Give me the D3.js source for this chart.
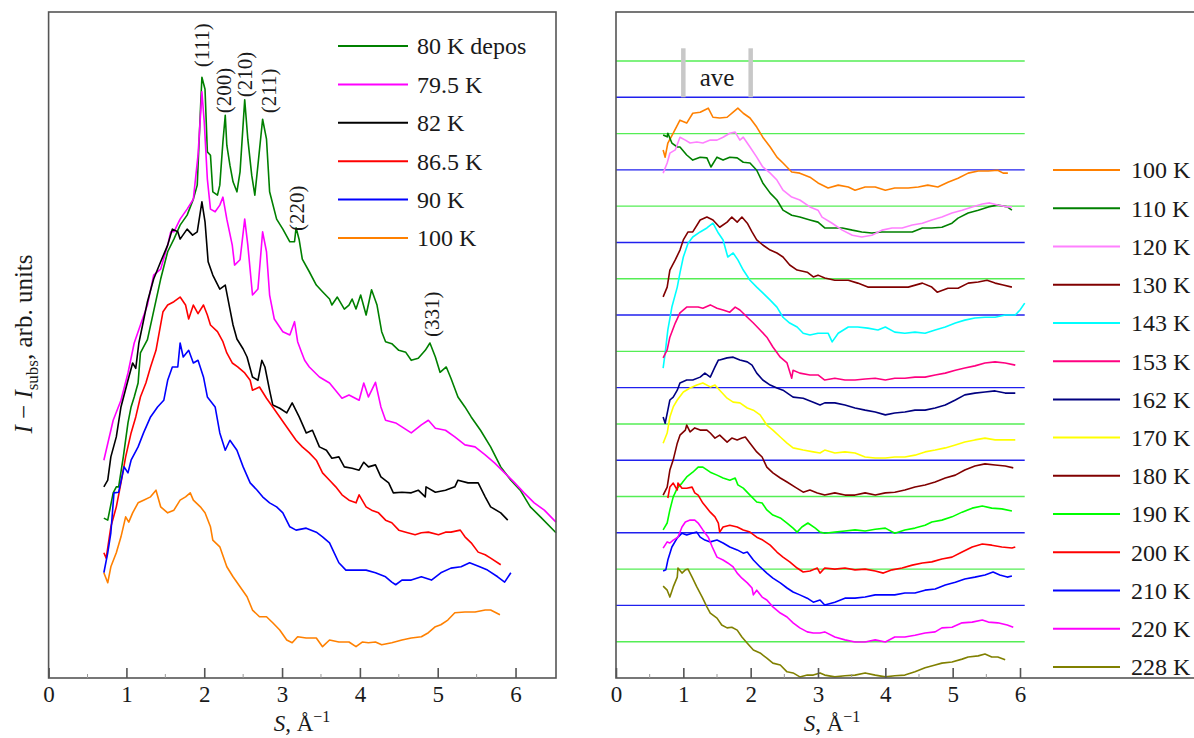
<!DOCTYPE html>
<html>
<head>
<meta charset="utf-8">
<script src="https://cdn.jsdelivr.net/npm/d3@7"></script>
<style>
body { margin: 0; background: #fff; }
svg text { font-family: 'Liberation Serif', 'Times New Roman', Tinos, 'DejaVu Serif', serif !important; fill: #1a1a1a; }
</style>
</head>
<body>
<svg class="canvas"></svg>
<script>
// ---- left panel: S (1/A) vs intensity (arb. units) ----
var dep80 = [[0.71,2.40],[0.76,2.37],[0.83,2.78],[0.87,2.87],[0.90,2.87],[0.96,3.32],[1.02,3.83],[1.06,4.07],[1.10,4.22],[1.15,4.43],[1.18,4.88],[1.27,5.08],[1.44,5.99],[1.53,6.40],[1.61,6.59],[1.69,6.80],[1.78,6.95],[1.86,7.19],[1.91,7.40],[1.95,8.50],[1.97,9.02],[2.01,8.84],[2.04,7.90],[2.08,7.85],[2.11,7.30],[2.17,7.25],[2.20,7.40],[2.24,8.05],[2.27,8.45],[2.29,8.00],[2.33,7.70],[2.37,7.45],[2.42,7.30],[2.46,7.60],[2.52,8.68],[2.56,8.09],[2.61,7.55],[2.65,7.25],[2.69,7.70],[2.75,8.39],[2.80,8.09],[2.84,7.30],[2.93,6.89],[3.01,6.74],[3.10,6.55],[3.16,6.55],[3.18,6.76],[3.22,6.58],[3.26,6.29],[3.35,6.10],[3.44,5.90],[3.52,5.80],[3.61,5.69],[3.64,5.60],[3.71,5.72],[3.80,5.54],[3.86,5.60],[3.90,5.69],[3.95,5.54],[4.01,5.75],[4.08,5.45],[4.15,5.83],[4.22,5.60],[4.28,5.20],[4.33,5.05],[4.41,5.02],[4.50,4.92],[4.59,4.89],[4.66,4.77],[4.75,4.80],[4.84,4.92],[4.90,5.03],[4.97,4.82],[5.03,4.59],[5.11,4.67],[5.17,4.50],[5.26,4.22],[5.35,4.07],[5.43,3.92],[5.55,3.72],[5.68,3.47],[5.81,3.17],[5.94,2.97],[6.06,2.82],[6.19,2.57],[6.32,2.42],[6.52,2.18]];
var k795 = [[0.71,3.27],[0.83,3.87],[0.93,4.17],[1.02,4.58],[1.10,5.03],[1.18,5.30],[1.27,5.60],[1.35,6.05],[1.44,6.14],[1.53,6.50],[1.57,6.70],[1.61,6.70],[1.69,6.89],[1.78,7.04],[1.86,7.19],[1.92,7.85],[1.97,8.80],[2.00,8.35],[2.04,7.49],[2.08,7.04],[2.14,7.00],[2.20,7.10],[2.24,7.22],[2.29,6.89],[2.36,6.50],[2.39,6.20],[2.46,6.28],[2.52,6.89],[2.56,6.50],[2.62,5.75],[2.69,5.84],[2.75,6.70],[2.80,6.40],[2.84,5.75],[2.90,5.39],[3.01,5.20],[3.10,5.15],[3.16,5.35],[3.20,5.05],[3.25,4.89],[3.29,4.77],[3.35,4.67],[3.48,4.52],[3.61,4.43],[3.77,4.20],[3.86,4.25],[3.99,4.17],[4.05,4.43],[4.11,4.22],[4.20,4.44],[4.27,4.07],[4.33,3.87],[4.46,3.83],[4.54,3.77],[4.66,3.68],[4.79,3.80],[4.88,3.87],[4.97,3.75],[5.10,3.72],[5.22,3.62],[5.35,3.50],[5.48,3.47],[5.61,3.35],[5.73,3.23],[5.86,3.08],[5.99,2.93],[6.11,2.78],[6.24,2.63],[6.37,2.52],[6.52,2.34]];
var k82 = [[0.71,2.87],[0.76,2.97],[0.80,3.32],[0.87,3.62],[0.93,4.07],[1.02,4.47],[1.08,4.73],[1.12,4.65],[1.16,5.03],[1.27,5.65],[1.35,5.99],[1.44,6.25],[1.53,6.50],[1.59,6.74],[1.66,6.70],[1.69,6.59],[1.78,6.74],[1.85,6.65],[1.91,6.70],[1.97,7.15],[2.01,6.85],[2.05,6.25],[2.11,6.05],[2.20,5.84],[2.27,5.90],[2.33,5.54],[2.37,5.30],[2.42,5.09],[2.50,4.94],[2.55,4.82],[2.62,4.52],[2.69,4.47],[2.74,4.77],[2.78,4.67],[2.84,4.32],[2.88,4.10],[2.97,4.05],[3.06,3.98],[3.13,4.13],[3.22,3.92],[3.31,3.68],[3.39,3.72],[3.48,3.47],[3.57,3.42],[3.64,3.30],[3.73,3.32],[3.80,3.17],[3.90,3.15],[3.99,3.12],[4.05,3.24],[4.11,3.17],[4.20,3.20],[4.27,3.02],[4.37,2.93],[4.43,2.78],[4.54,2.79],[4.66,2.78],[4.75,2.82],[4.84,2.72],[4.85,2.87],[4.97,2.79],[5.10,2.82],[5.22,2.87],[5.26,2.97],[5.39,2.93],[5.52,2.93],[5.61,2.72],[5.68,2.57],[5.81,2.48],[5.90,2.37]];
var k865 = [[0.71,1.88],[0.74,1.80],[0.80,2.27],[0.87,2.57],[0.93,2.93],[0.99,3.32],[1.06,3.68],[1.12,3.92],[1.18,4.22],[1.25,4.43],[1.31,4.67],[1.38,4.92],[1.47,5.50],[1.53,5.60],[1.61,5.65],[1.69,5.72],[1.76,5.60],[1.80,5.39],[1.86,5.60],[1.92,5.47],[1.99,5.60],[2.04,5.45],[2.08,5.30],[2.17,5.20],[2.24,5.05],[2.29,4.88],[2.36,4.73],[2.43,4.67],[2.52,4.58],[2.59,4.47],[2.62,4.32],[2.71,4.37],[2.80,4.20],[2.88,4.07],[2.97,3.92],[3.06,3.77],[3.18,3.57],[3.26,3.47],[3.35,3.38],[3.44,3.27],[3.52,3.08],[3.61,2.97],[3.69,2.87],[3.77,2.75],[3.86,2.67],[3.95,2.63],[3.99,2.75],[4.08,2.57],[4.15,2.52],[4.24,2.48],[4.33,2.37],[4.41,2.33],[4.50,2.22],[4.59,2.19],[4.71,2.15],[4.79,2.18],[4.88,2.19],[5.01,2.15],[5.10,2.19],[5.17,2.19],[5.29,2.22],[5.35,2.12],[5.43,2.03],[5.52,1.89],[5.61,1.85],[5.68,1.80],[5.81,1.70]];
var k90 = [[0.71,1.58],[0.76,1.88],[0.80,2.18],[0.84,2.78],[0.90,2.79],[0.97,3.17],[1.02,3.08],[1.06,3.27],[1.15,3.47],[1.22,3.68],[1.31,3.92],[1.40,4.07],[1.48,4.17],[1.53,4.47],[1.59,4.67],[1.66,4.67],[1.69,5.03],[1.73,4.82],[1.80,4.92],[1.86,4.73],[1.92,4.77],[1.99,4.52],[2.04,4.22],[2.10,4.13],[2.14,4.07],[2.20,3.68],[2.27,3.42],[2.33,3.57],[2.42,3.42],[2.50,3.17],[2.59,2.93],[2.68,2.82],[2.75,2.72],[2.84,2.63],[2.93,2.57],[3.01,2.48],[3.10,2.27],[3.18,2.22],[3.31,2.25],[3.44,2.19],[3.52,2.12],[3.61,2.03],[3.67,1.88],[3.73,1.73],[3.82,1.62],[3.95,1.62],[4.08,1.62],[4.20,1.58],[4.33,1.52],[4.41,1.44],[4.46,1.40],[4.54,1.47],[4.66,1.47],[4.79,1.52],[4.92,1.47],[5.04,1.58],[5.17,1.65],[5.30,1.67],[5.41,1.73],[5.54,1.67],[5.64,1.62],[5.77,1.52],[5.86,1.44],[5.94,1.58]];
var k100 = [[0.71,1.58],[0.76,1.43],[0.80,1.67],[0.87,1.88],[0.93,2.12],[0.99,2.42],[1.03,2.34],[1.08,2.48],[1.15,2.63],[1.22,2.67],[1.31,2.72],[1.38,2.82],[1.44,2.57],[1.53,2.48],[1.61,2.52],[1.69,2.67],[1.76,2.72],[1.82,2.78],[1.86,2.67],[1.95,2.57],[2.01,2.48],[2.08,2.27],[2.11,2.07],[2.20,1.97],[2.29,1.67],[2.37,1.52],[2.46,1.37],[2.55,1.22],[2.62,1.02],[2.71,0.92],[2.80,0.92],[2.88,0.83],[2.97,0.72],[3.06,0.57],[3.13,0.53],[3.20,0.62],[3.31,0.60],[3.44,0.60],[3.52,0.47],[3.61,0.57],[3.73,0.54],[3.86,0.54],[3.95,0.47],[4.03,0.54],[4.11,0.53],[4.20,0.54],[4.28,0.50],[4.41,0.53],[4.54,0.57],[4.66,0.60],[4.79,0.62],[4.88,0.68],[4.97,0.77],[5.04,0.80],[5.13,0.87],[5.22,0.98],[5.35,0.99],[5.48,0.99],[5.61,1.02],[5.68,1.02],[5.80,0.95]];

var leftSeries = [dep80, k795, k82, k865, k90, k100];
var leftLabels = ["80 K depos", "79.5 K", "82 K", "86.5 K", "90 K", "100 K"];
var leftColors = ["#008000", "#ff00ff", "#000000", "#ff0000", "#0000ff", "#ff8000"];

var peakNames = ["(111)", "(200)", "(210)", "(211)", "(220)", "(331)"];
var peakS = [1.97, 2.25, 2.52, 2.83, 3.19, 4.92];
var peakV = [9.17, 8.48, 8.72, 8.48, 6.71, 5.12];

// ---- right panel: curves stacked on reference levels ----
var r100 = [[0.70,14.55],[0.73,14.35],[0.77,14.74],[0.85,15.01],[0.95,15.37],[1.05,15.29],[1.14,15.56],[1.25,15.59],[1.37,15.70],[1.44,15.45],[1.54,15.43],[1.65,15.45],[1.74,15.59],[1.81,15.70],[1.89,15.56],[1.99,15.43],[2.09,15.18],[2.18,14.90],[2.29,14.63],[2.39,14.35],[2.48,14.19],[2.61,13.94],[2.73,13.91],[2.88,13.80],[3.00,13.64],[3.15,13.50],[3.30,13.58],[3.45,13.53],[3.55,13.44],[3.70,13.53],[3.85,13.53],[4.00,13.44],[4.14,13.50],[4.34,13.50],[4.49,13.53],[4.63,13.58],[4.78,13.53],[4.93,13.66],[5.08,13.77],[5.23,13.91],[5.38,13.97],[5.53,13.97],[5.67,13.99],[5.75,13.91],[5.82,13.91]];
var r110 = [[0.70,14.96],[0.76,14.91],[0.77,15.01],[0.83,14.74],[0.91,14.63],[0.95,14.63],[1.05,14.41],[1.14,14.27],[1.25,14.35],[1.35,14.33],[1.41,14.08],[1.50,14.35],[1.59,14.27],[1.69,14.35],[1.80,14.33],[1.89,14.21],[1.99,14.19],[2.09,13.99],[2.18,13.64],[2.29,13.36],[2.39,13.17],[2.48,12.89],[2.61,12.75],[2.73,12.70],[2.88,12.62],[3.00,12.56],[3.10,12.40],[3.21,12.40],[3.36,12.40],[3.51,12.34],[3.65,12.29],[3.80,12.26],[3.95,12.29],[4.10,12.29],[4.25,12.29],[4.40,12.29],[4.55,12.40],[4.69,12.40],[4.84,12.42],[4.99,12.53],[5.08,12.67],[5.23,12.81],[5.38,12.89],[5.53,12.98],[5.67,13.03],[5.81,12.98],[5.88,12.89]];
var r120 = [[0.70,13.91],[0.76,14.19],[0.80,14.46],[0.88,14.55],[0.95,14.90],[1.03,14.82],[1.10,14.74],[1.20,14.77],[1.29,14.74],[1.40,14.82],[1.50,14.82],[1.59,14.90],[1.69,15.01],[1.77,15.04],[1.84,14.82],[1.89,14.90],[1.99,14.63],[2.09,14.35],[2.18,14.08],[2.29,13.91],[2.39,13.72],[2.48,13.44],[2.61,13.25],[2.73,13.17],[2.88,12.98],[3.00,12.89],[3.06,12.70],[3.21,12.53],[3.36,12.34],[3.51,12.20],[3.65,12.15],[3.80,12.20],[3.95,12.34],[4.10,12.40],[4.25,12.40],[4.40,12.48],[4.55,12.53],[4.69,12.62],[4.84,12.70],[4.99,12.81],[5.14,12.89],[5.29,12.98],[5.44,13.06],[5.55,13.09],[5.67,13.03],[5.81,12.98],[5.88,12.98]];
var r130 = [[0.70,10.50],[0.76,10.77],[0.80,11.24],[0.88,11.52],[0.95,11.79],[1.00,12.07],[1.07,12.29],[1.14,12.29],[1.25,12.62],[1.35,12.70],[1.44,12.62],[1.54,12.42],[1.65,12.56],[1.72,12.70],[1.80,12.56],[1.87,12.70],[1.95,12.53],[2.02,12.29],[2.09,12.07],[2.18,11.93],[2.29,11.79],[2.39,11.71],[2.48,11.60],[2.58,11.38],[2.69,11.24],[2.84,11.18],[2.93,11.05],[3.00,11.10],[3.10,11.02],[3.25,10.96],[3.45,10.96],[3.59,10.88],[3.74,10.77],[3.95,10.77],[4.14,10.77],[4.34,10.77],[4.55,10.88],[4.69,10.77],[4.77,10.63],[4.93,10.74],[5.08,10.74],[5.23,10.88],[5.38,10.91],[5.51,10.96],[5.63,10.88],[5.75,10.83],[5.88,10.77]];
var r143 = [[0.70,8.54],[0.73,8.95],[0.77,9.59],[0.83,10.22],[0.91,10.77],[0.95,11.16],[1.00,11.60],[1.07,11.98],[1.14,12.15],[1.25,12.29],[1.35,12.40],[1.44,12.53],[1.52,12.26],[1.59,12.07],[1.66,11.60],[1.74,11.71],[1.81,11.52],[1.89,11.24],[1.99,10.96],[2.09,10.77],[2.18,10.61],[2.29,10.41],[2.39,10.22],[2.48,9.94],[2.58,9.78],[2.69,9.67],[2.78,9.50],[2.88,9.45],[3.00,9.50],[3.06,9.50],[3.15,9.50],[3.21,9.26],[3.30,9.50],[3.45,9.67],[3.59,9.67],[3.74,9.64],[3.89,9.59],[4.00,9.67],[4.14,9.53],[4.29,9.50],[4.44,9.53],[4.59,9.50],[4.74,9.59],[4.89,9.67],[5.04,9.78],[5.18,9.86],[5.33,9.92],[5.48,9.94],[5.63,9.94],[5.78,10.00],[5.93,10.00],[6.00,10.14],[6.07,10.33]];
var r153 = [[0.70,8.82],[0.76,9.04],[0.80,9.39],[0.88,9.78],[0.95,10.06],[1.05,10.22],[1.14,10.22],[1.22,10.22],[1.29,10.19],[1.40,10.28],[1.50,10.19],[1.59,10.14],[1.69,10.08],[1.77,10.22],[1.84,10.14],[1.95,9.94],[2.04,9.78],[2.14,9.59],[2.24,9.39],[2.33,9.12],[2.44,8.84],[2.54,8.68],[2.61,8.26],[2.63,8.48],[2.73,8.40],[2.88,8.35],[3.00,8.35],[3.10,8.21],[3.25,8.26],[3.40,8.21],[3.55,8.21],[3.70,8.24],[3.85,8.26],[4.00,8.21],[4.14,8.26],[4.29,8.26],[4.44,8.29],[4.59,8.29],[4.74,8.35],[4.89,8.40],[5.04,8.48],[5.18,8.54],[5.33,8.60],[5.48,8.68],[5.63,8.71],[5.78,8.68],[5.93,8.62]];
var r162 = [[0.70,7.19],[0.73,7.02],[0.77,7.38],[0.80,7.66],[0.85,7.74],[0.91,7.93],[0.95,8.13],[1.05,8.21],[1.14,8.21],[1.25,8.29],[1.32,8.40],[1.40,8.29],[1.47,8.57],[1.52,8.76],[1.54,8.76],[1.65,8.82],[1.74,8.84],[1.84,8.76],[1.95,8.71],[2.02,8.62],[2.09,8.40],[2.18,8.21],[2.29,8.07],[2.39,7.99],[2.48,7.93],[2.63,7.74],[2.78,7.71],[2.93,7.60],[3.03,7.52],[3.10,7.58],[3.25,7.58],[3.40,7.52],[3.55,7.44],[3.70,7.38],[3.85,7.33],[4.00,7.25],[4.14,7.30],[4.29,7.33],[4.44,7.38],[4.59,7.38],[4.74,7.44],[4.89,7.52],[5.04,7.66],[5.18,7.80],[5.33,7.85],[5.48,7.88],[5.63,7.91],[5.78,7.85],[5.93,7.85]];
var r170 = [[0.70,6.47],[0.76,6.75],[0.80,7.19],[0.85,7.47],[0.91,7.66],[1.00,7.88],[1.10,7.99],[1.20,8.07],[1.29,8.13],[1.40,8.02],[1.47,8.07],[1.54,7.93],[1.65,7.71],[1.74,7.60],[1.84,7.58],[1.95,7.44],[2.04,7.38],[2.14,7.25],[2.24,6.97],[2.33,6.83],[2.44,6.64],[2.54,6.47],[2.63,6.34],[2.78,6.28],[2.93,6.23],[3.03,6.20],[3.10,6.28],[3.25,6.20],[3.40,6.23],[3.55,6.20],[3.70,6.09],[3.85,6.06],[4.00,6.06],[4.14,6.09],[4.29,6.09],[4.44,6.14],[4.59,6.23],[4.74,6.28],[4.89,6.34],[5.04,6.42],[5.18,6.50],[5.33,6.56],[5.48,6.61],[5.63,6.56],[5.78,6.56],[5.93,6.56]];
var r180 = [[0.70,5.04],[0.76,5.26],[0.80,5.73],[0.85,6.01],[0.91,6.47],[0.95,6.69],[1.03,6.83],[1.05,6.97],[1.10,6.78],[1.17,6.89],[1.25,6.83],[1.35,6.83],[1.40,6.75],[1.47,6.61],[1.54,6.69],[1.65,6.50],[1.72,6.61],[1.80,6.56],[1.87,6.61],[1.92,6.64],[1.99,6.47],[2.09,6.23],[2.17,6.09],[2.24,5.81],[2.33,5.65],[2.44,5.51],[2.54,5.40],[2.66,5.26],[2.78,5.12],[2.88,5.18],[2.99,5.10],[3.10,5.04],[3.25,5.10],[3.40,5.04],[3.55,5.04],[3.70,5.10],[3.85,5.04],[4.00,5.10],[4.14,5.12],[4.29,5.18],[4.44,5.26],[4.59,5.32],[4.74,5.40],[4.89,5.51],[5.04,5.59],[5.18,5.73],[5.33,5.84],[5.48,5.90],[5.63,5.87],[5.78,5.84],[5.90,5.79]];
var r190 = [[0.70,4.08],[0.76,4.27],[0.80,4.63],[0.85,4.99],[0.91,5.23],[0.98,5.37],[1.05,5.54],[1.14,5.67],[1.22,5.81],[1.29,5.81],[1.40,5.67],[1.50,5.59],[1.59,5.51],[1.69,5.45],[1.77,5.51],[1.81,5.32],[1.89,5.23],[1.99,5.04],[2.09,4.85],[2.17,4.82],[2.24,4.63],[2.33,4.49],[2.44,4.41],[2.54,4.27],[2.63,4.13],[2.69,4.02],[2.76,4.16],[2.85,4.27],[2.96,4.13],[3.03,4.02],[3.10,3.99],[3.25,4.02],[3.40,4.05],[3.55,4.08],[3.70,4.05],[3.85,4.10],[4.00,4.13],[4.14,3.99],[4.29,4.08],[4.44,4.13],[4.59,4.21],[4.69,4.30],[4.84,4.35],[4.99,4.44],[5.14,4.57],[5.29,4.68],[5.44,4.74],[5.58,4.68],[5.73,4.66],[5.88,4.60]];
var r200 = [[0.77,4.96],[0.80,5.26],[0.85,5.37],[0.91,5.18],[0.92,5.37],[0.98,5.23],[1.05,5.23],[1.13,5.26],[1.17,5.10],[1.22,5.04],[1.29,4.82],[1.40,4.57],[1.47,4.44],[1.52,4.27],[1.54,4.02],[1.59,4.16],[1.69,4.21],[1.80,4.16],[1.89,4.08],[1.99,4.02],[2.09,3.88],[2.18,3.80],[2.29,3.66],[2.39,3.47],[2.48,3.33],[2.58,3.20],[2.69,3.03],[2.78,2.92],[2.88,2.95],[2.99,3.03],[3.03,2.89],[3.10,3.03],[3.25,3.00],[3.40,3.03],[3.55,2.98],[3.70,3.00],[3.85,2.95],[3.97,2.89],[4.10,2.98],[4.25,3.03],[4.40,3.11],[4.55,3.17],[4.69,3.20],[4.84,3.28],[4.99,3.33],[5.14,3.47],[5.29,3.61],[5.44,3.69],[5.58,3.66],[5.73,3.61],[5.88,3.58],[5.93,3.61]];
var r210 = [[0.70,2.95],[0.74,2.98],[0.77,3.25],[0.83,3.61],[0.91,3.86],[0.98,3.99],[1.05,3.94],[1.13,3.99],[1.20,4.02],[1.25,3.88],[1.32,3.80],[1.40,3.75],[1.50,3.80],[1.59,3.72],[1.69,3.61],[1.80,3.53],[1.89,3.44],[1.95,3.47],[2.04,3.25],[2.14,3.06],[2.24,2.89],[2.33,2.75],[2.44,2.62],[2.54,2.48],[2.63,2.37],[2.73,2.29],[2.84,2.20],[2.93,2.09],[3.03,2.15],[3.10,2.01],[3.25,2.09],[3.40,2.20],[3.55,2.20],[3.70,2.23],[3.85,2.29],[4.00,2.29],[4.14,2.29],[4.29,2.34],[4.44,2.34],[4.59,2.42],[4.74,2.45],[4.89,2.56],[5.04,2.64],[5.18,2.73],[5.33,2.78],[5.48,2.84],[5.60,2.92],[5.70,2.84],[5.81,2.78],[5.88,2.81]];
var r220 = [[0.70,3.58],[0.76,3.75],[0.80,3.72],[0.85,3.80],[0.92,3.88],[0.98,4.16],[1.03,4.30],[1.10,4.35],[1.17,4.35],[1.22,4.27],[1.29,4.08],[1.37,3.88],[1.43,3.61],[1.50,3.33],[1.59,3.25],[1.66,3.17],[1.74,3.06],[1.80,2.89],[1.87,2.75],[1.95,2.62],[2.02,2.48],[2.04,2.29],[2.09,2.42],[2.17,2.23],[2.24,2.15],[2.33,1.96],[2.44,1.79],[2.54,1.68],[2.63,1.52],[2.73,1.38],[2.84,1.27],[2.93,1.24],[3.03,1.24],[3.10,1.27],[3.25,1.13],[3.40,1.05],[3.55,0.99],[3.70,0.99],[3.85,1.05],[4.00,0.99],[4.14,1.13],[4.29,1.13],[4.44,1.18],[4.59,1.24],[4.74,1.27],[4.84,1.38],[4.99,1.40],[5.14,1.52],[5.29,1.54],[5.44,1.60],[5.53,1.54],[5.67,1.52],[5.81,1.46],[5.90,1.40]];
var r228 = [[0.70,2.53],[0.76,2.42],[0.80,2.23],[0.85,2.51],[0.91,2.78],[0.92,3.03],[0.98,2.89],[1.03,2.98],[1.07,3.00],[1.13,2.78],[1.20,2.51],[1.28,2.23],[1.35,1.96],[1.40,1.79],[1.50,1.65],[1.57,1.46],[1.65,1.38],[1.72,1.40],[1.80,1.32],[1.87,1.13],[1.95,0.96],[2.04,0.77],[2.14,0.69],[2.24,0.55],[2.33,0.41],[2.44,0.36],[2.54,0.17],[2.63,0.14],[2.73,0.03],[2.84,0.08],[2.93,0.08],[3.03,0.14],[3.10,0.08],[3.25,0.03],[3.40,0.06],[3.55,0.08],[3.70,0.14],[3.85,0.08],[4.00,0.03],[4.14,0.06],[4.29,0.08],[4.44,0.17],[4.59,0.28],[4.74,0.36],[4.84,0.41],[4.99,0.44],[5.14,0.52],[5.23,0.58],[5.38,0.61],[5.48,0.66],[5.58,0.58],[5.67,0.58],[5.78,0.50]];

var rightSeries = [r100, r110, r120, r130, r143, r153, r162, r170, r180, r190, r200, r210, r220, r228];
var rightLabels = ["100 K", "110 K", "120 K", "130 K", "143 K", "153 K", "162 K", "170 K", "180 K", "190 K", "200 K", "210 K", "220 K", "228 K"];
var rightColors = ["#ff8000", "#008000", "#ff80ff", "#800000", "#00ffff", "#ff0080", "#000080", "#ffff00", "#800000", "#00ff00", "#ff0000", "#0000ff", "#ff00ff", "#808000"];

var levels = [1, 2, 3, 4, 5, 6, 7, 8, 9, 10, 11, 12, 13, 14, 15, 16, 17];
var aveS = [1, 2];

var xTicks = [0, 1, 2, 3, 4, 5, 6];
var xMinor = [0.5, 1.5, 2.5, 3.5, 4.5, 5.5];

var width = 1194,
	height = 738;

var TOP = 12, BOTTOM = 678;
var SERIF = "'Liberation Serif', 'Times New Roman', Tinos, 'DejaVu Serif', serif";
var canvas;

window.onload = function() {
	canvas = d3.select(".canvas")
		.attr("width", width)
		.attr("height", height)
		.attr("font-family", SERIF);
	drawLeft();
	drawRight();
	canvas.selectAll("text").style("font-family", SERIF);
};

function drawAxis(g, x, ticks) {
	var axis = d3.axisBottom(x)
		.tickValues(ticks)
		.tickFormat(d3.format("d"))
		.tickSizeInner(-10)
		.tickSizeOuter(0)
		.tickPadding(8);
	var ax = g.append("g")
		.attr("transform", "translate(0," + BOTTOM + ")")
		.call(axis)
		.attr("font-family", SERIF);
	ax.select(".domain").remove();
	ax.selectAll(".tick line").attr("stroke", "#555").attr("stroke-width", 1.6);
	ax.selectAll(".tick text")
		.attr("font-size", 23)
		.attr("fill", "#1a1a1a");

	g.selectAll("line.minor").data(xMinor).enter().append("line")
		.attr("class", "minor")
		.attr("x1", function(d) { return x(d); })
		.attr("x2", function(d) { return x(d); })
		.attr("y1", BOTTOM)
		.attr("y2", BOTTOM - 4)
		.attr("stroke", "#999")
		.attr("stroke-width", 1);
}

function xTitle(g, cx) {
	var t = g.append("text")
		.attr("x", cx)
		.attr("y", 731)
		.attr("text-anchor", "middle")
		.attr("font-size", 23);
	t.append("tspan").attr("font-style", "italic").text("S");
	t.append("tspan").text(", \u00c5");
	t.append("tspan").attr("dy", -9).attr("font-size", 16).text("\u22121");
}

function drawLeft() {
	var g = canvas.append("g");
	var x = d3.scaleLinear().domain([0, 6.52]).range([48.6, 556]);
	var y = d3.scaleLinear().domain([0, 10]).range([BOTTOM, TOP]);

	var line = d3.line()
		.x(function(d) { return x(d[0]); })
		.y(function(d) { return y(d[1]); });

	g.selectAll("path.curve").data(leftSeries).enter().append("path")
		.attr("class", "curve")
		.attr("d", line)
		.attr("fill", "none")
		.attr("stroke", function(d, i) { return leftColors[i]; })
		.attr("stroke-width", 1.6)
		.attr("stroke-linejoin", "round");

	// peak labels
	g.selectAll("text.peak").data(peakNames).enter().append("text")
		.attr("class", "peak")
		.attr("transform", function(d, i) {
			return "translate(" + x(peakS[i]) + "," + y(peakV[i]) + ") rotate(-90)"; })
		.attr("dy", "0.35em")
		.attr("font-size", 21)
		.text(function(d) { return d; });

	// legend
	var ly = d3.scaleLinear().domain([0, 5]).range([46, 238]);
	var leg = g.selectAll("g.leg").data(leftLabels).enter().append("g")
		.attr("class", "leg")
		.attr("transform", function(d, i) { return "translate(0," + ly(i) + ")"; });
	leg.append("line")
		.attr("x1", 338).attr("x2", 408)
		.attr("stroke", function(d, i) { return leftColors[i]; })
		.attr("stroke-width", 2);
	leg.append("text")
		.attr("x", 417)
		.attr("dy", "0.35em")
		.attr("font-size", 24)
		.text(function(d) { return d; });

	g.append("rect")
		.attr("x", 48.6).attr("y", TOP)
		.attr("width", 556 - 48.6).attr("height", BOTTOM - TOP)
		.attr("fill", "none")
		.attr("stroke", "#555")
		.attr("stroke-width", 1.6);

	drawAxis(g, x, xTicks);
	xTitle(g, 302);

	// y label
	var yl = g.append("text")
		.attr("transform", "translate(32,344) rotate(-90)")
		.attr("text-anchor", "middle")
		.attr("font-size", 25);
	yl.append("tspan").attr("font-style", "italic").text("I");
	yl.append("tspan").text(" \u2212 ");
	yl.append("tspan").attr("font-style", "italic").text("I");
	yl.append("tspan").attr("dy", 6).attr("font-size", 17).text("subs");
	yl.append("tspan").attr("dy", -6).text(", arb. units");
}

function drawRight() {
	var g = canvas.append("g");
	var x = d3.scaleLinear().domain([0, 6]).range([616, 1020]);
	var y = d3.scaleLinear().domain([0, 18.35]).range([BOTTOM, TOP]);

	// reference levels
	g.selectAll("line.level").data(levels).enter().append("line")
		.attr("class", "level")
		.attr("x1", x(0)).attr("x2", x(6.07))
		.attr("y1", function(d) { return y(d); })
		.attr("y2", function(d) { return y(d); })
		.attr("stroke", function(d) { return d % 2 ? "#55ee55" : "#2020ee"; })
		.attr("stroke-width", 1.4);

	// ave marker
	g.selectAll("line.ave").data(aveS).enter().append("line")
		.attr("class", "ave")
		.attr("x1", function(d) { return x(d); })
		.attr("x2", function(d) { return x(d); })
		.attr("y1", y(16))
		.attr("y2", y(17.35))
		.attr("stroke", "#c8c8c8")
		.attr("stroke-width", 4.5);
	g.append("text")
		.attr("x", x(1.5)).attr("y", y(16.3))
		.attr("text-anchor", "middle")
		.attr("font-size", 25)
		.text("ave");

	var line = d3.line()
		.x(function(d) { return x(d[0]); })
		.y(function(d) { return y(d[1]); });

	g.selectAll("path.curve").data(rightSeries).enter().append("path")
		.attr("class", "curve")
		.attr("d", line)
		.attr("fill", "none")
		.attr("stroke", function(d, i) { return rightColors[i]; })
		.attr("stroke-width", 1.6)
		.attr("stroke-linejoin", "round");

	// legend
	var ly = d3.scaleLinear().domain([0, 13]).range([170, 667]);
	var leg = g.selectAll("g.leg").data(rightLabels).enter().append("g")
		.attr("class", "leg")
		.attr("transform", function(d, i) { return "translate(0," + ly(i) + ")"; });
	leg.append("line")
		.attr("x1", 1053).attr("x2", 1120)
		.attr("stroke", function(d, i) { return rightColors[i]; })
		.attr("stroke-width", 2);
	leg.append("text")
		.attr("x", 1131)
		.attr("dy", "0.35em")
		.attr("font-size", 24)
		.text(function(d) { return d; });

	g.append("rect")
		.attr("x", 616).attr("y", TOP)
		.attr("width", 620).attr("height", BOTTOM - TOP)
		.attr("fill", "none")
		.attr("stroke", "#555")
		.attr("stroke-width", 1.6);

	drawAxis(g, x, xTicks);
	xTitle(g, 832);
}
</script>
</body>
</html>
